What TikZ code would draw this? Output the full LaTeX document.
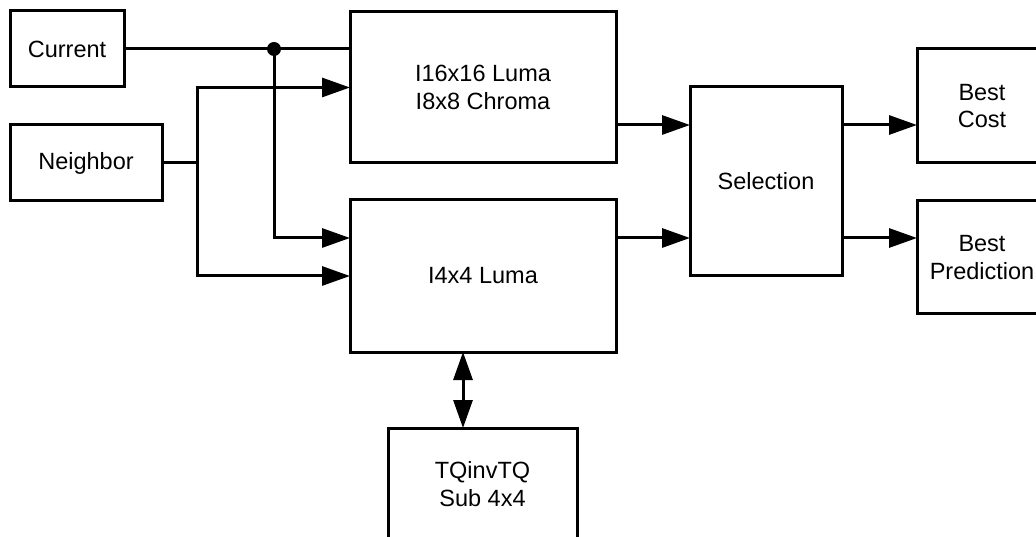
\documentclass[tikz,border=0pt]{standalone}
\usepackage{fontspec}
\setmainfont{Liberation Sans}
\usetikzlibrary{arrows.meta}

\tikzset{
  blk/.style={draw=black, line width=3pt, inner sep=0pt, outer sep=0pt,
    align=center, font=\fontsize{23.5pt}{27.5pt}\selectfont},
  wire/.style={draw=black, line width=3pt},
  arr/.style={wire, -{Triangle[length=28pt,width=19pt]}},
  dbl/.style={wire, {Triangle[length=28pt,width=19pt]}-{Triangle[length=28pt,width=19pt]}},
}

\begin{document}
\begin{tikzpicture}[x=1pt, y=-1pt]
\useasboundingbox (0,0) rectangle (1036,537);

% blocks
\node[blk, minimum width=114pt, minimum height=76pt] (cur) at (67,49) {Current};
\node[blk, minimum width=152pt, minimum height=76pt] (nei) at (86,163) {Neighbor};
\node[blk, minimum width=266pt, minimum height=151pt] (i16) at (483,87.5) {I16x16 Luma\\I8x8 Chroma};
\node[blk, minimum width=266pt, minimum height=152pt] (i4) at (483,276) {I4x4 Luma};
\node[blk, minimum width=152pt, minimum height=189pt] (sel) at (766,181.5) {Selection};
\node[blk, minimum width=130pt, minimum height=114pt] (cost) at (982,106) {Best\\Cost};
\node[blk, minimum width=130pt, minimum height=113pt] (pred) at (982,257.5) {Best\\Prediction};
\node[blk, minimum width=189pt, minimum height=112pt] (tq) at (482.5,484) {TQinvTQ\\Sub 4x4};

% branch points
\coordinate (j) at (274,49);
\coordinate (nb) at (197,163);
\coordinate (s1) at ([yshift=56.5pt]sel.west);
\coordinate (s2) at ([yshift=-56.5pt]sel.west);
\coordinate (q) at ([xshift=-20pt]i4.south);

% current block feeds both predictors
\draw[wire] (cur.east) -- (cur.east -| i16.west);
\draw[arr] (j) |- ([yshift=38pt]i4.west);
\fill (j) circle (7pt);

% neighbour pixels feed both predictors
\draw[wire] (nei.east) -- (nb);
\draw[arr] (i4.west -| nb) |- (i16.west);
\draw[arr] (i16.west -| nb) |- (i4.west);

% predictors to selection
\draw[arr] (i16.east |- s1) -- (s1);
\draw[arr] (i4.east |- s2) -- (s2);

% selection outputs
\draw[arr] (sel.east |- s1) -- (cost.west |- s1);
\draw[arr] (sel.east |- s2) -- (pred.west |- s2);

% 4x4 transform loop
\draw[dbl] (q) -- (q |- tq.north);
\end{tikzpicture}
\end{document}
